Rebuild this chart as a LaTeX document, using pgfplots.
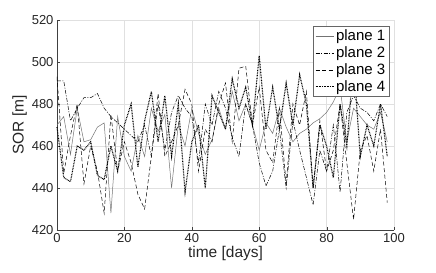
\documentclass[border=0pt]{standalone}
\usepackage{pgfplots}
\pgfplotsset{compat=1.18}
\usepackage{fontspec}
\setmainfont{Liberation Sans}
\begin{document}
\begin{tikzpicture}
\useasboundingbox (-57bp,-43bp) rectangle (379bp,230bp);
\begin{axis}[
  scale only axis, width=337bp, height=210bp,
  xmin=0, xmax=100, ymin=420, ymax=520,
  xtick={0,20,...,100}, ytick={420,440,...,520},
  axis x line*=bottom, axis y line*=left,
  axis line style={black!75, line width=0.5pt},
  grid=major, major grid style={black!12, line width=0.4pt},
  tick align=inside, major tick length=3bp, tick style={black!75},
  /pgf/number format/assume math mode=true,
  ticklabel style={font=\fontsize{13bp}{15bp}\selectfont, text=black!85},
  xlabel={time [days]}, ylabel={SOR [m]},
  label style={font=\fontsize{15.5bp}{18bp}\selectfont, text=black!85},
  xlabel style={yshift=3bp}, ylabel style={yshift=-2bp},
  legend style={at={(0.985,0.97)}, anchor=north east, font=\fontsize{15bp}{17bp}\selectfont,
    draw=black!60, fill=white, inner sep=1.5bp, row sep=0.5bp},
  legend cell align=left,
  legend image code/.code={\draw[#1] (0bp,0bp) -- (18bp,0bp);},
  clip=false,
]
\addplot[black!55, line width=0.5pt] coordinates {
(0,470)(2,474)(4,456)(6,478)(8,462)(10,463)(12,469)(14,471)(16,428)(18,474)
(20,455)(22,448)(24,465)(26,455)(28,478)(30,467)(32,475)(34,440)(36,470)(38,460)
(40,478)(42,466)(44,456)(46,463)(48,478)(50,468)(52,486)(54,472)(56,480)(58,470)
(60,458)(62,471)(64,466)(66,478)(68,469)(70,462)(72,466)(74,468)(76,471)(78,473)
(80,476)(82,481)(84,488)(86,462)(88,478)(90,474)(92,470)(94,468)(96,476)(98,462)};
\addlegendentry{plane 1}
\addplot[black, line width=0.5pt, dash pattern=on 4bp off 1.5bp on 1bp off 1.5bp] coordinates {
(0,491)(2,491)(4,472)(6,478)(8,483)(10,483)(12,485)(14,478)(16,474)(18,471)
(20,468)(22,465)(24,462)(26,470)(28,455)(30,480)(32,458)(34,476)(36,484)(38,478)
(40,474)(42,452)(44,480)(46,470)(48,486)(50,478)(52,464)(54,455)(56,480)(58,470)
(60,452)(62,441)(64,448)(66,468)(68,440)(70,472)(72,458)(74,445)(76,432)(78,458)
(80,448)(82,470)(84,438)(86,476)(88,484)(90,478)(92,476)(94,472)(96,480)(98,474)};
\addlegendentry{plane 2}
\addplot[black, line width=0.5pt, dash pattern=on 4bp off 2.5bp] coordinates {
(0,493)(2,447)(4,465)(6,480)(8,442)(10,460)(12,448)(14,428)(16,475)(18,448)
(20,462)(22,452)(24,437)(26,430)(28,455)(30,485)(32,455)(34,462)(36,470)(38,487)
(40,480)(42,448)(44,468)(46,462)(48,480)(50,490)(52,462)(54,497)(56,498)(58,470)
(60,488)(62,458)(64,452)(66,478)(68,442)(70,480)(72,470)(74,486)(76,440)(78,472)
(80,448)(82,458)(84,480)(86,452)(88,425)(90,458)(92,465)(94,448)(96,468)(98,433)};
\addlegendentry{plane 3}
\addplot[black, line width=1.1pt, dash pattern=on 0.8bp off 0.8bp] coordinates {
(0,469)(2,445)(4,443)(6,460)(8,458)(10,462)(12,446)(14,444)(16,460)(18,448)
(20,470)(22,480)(24,450)(26,472)(28,486)(30,462)(32,484)(34,455)(36,480)(38,438)
(40,462)(42,470)(44,440)(46,484)(48,476)(50,468)(52,492)(54,478)(56,488)(58,470)
(60,503)(62,468)(64,488)(66,468)(68,490)(70,470)(72,494)(74,480)(76,440)(78,470)
(80,460)(82,445)(84,480)(86,460)(88,500)(90,455)(92,470)(94,460)(96,480)(98,455)};
\addlegendentry{plane 4}
\end{axis}
\end{tikzpicture}
\end{document}
